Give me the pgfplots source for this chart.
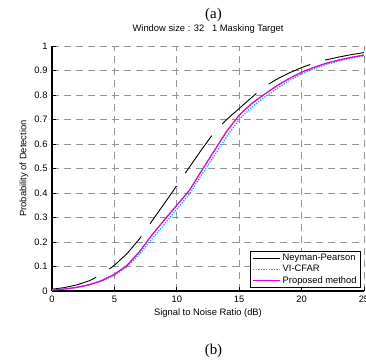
\documentclass[border=0pt]{standalone}
\usepackage{fontspec}
\setmainfont{Liberation Sans}
\newfontfamily\timesfont{Liberation Serif}
\usepackage{pgfplots}
\pgfplotsset{compat=1.18}
\definecolor{vicyan}{RGB}{0,180,230}
\definecolor{propmag}{RGB}{225,0,225}
\newcommand{\fs}{\fontsize{9.4}{11}\selectfont}
\begin{document}
\begin{tikzpicture}
\begin{axis}[
  name=ax, at={(0,0)}, anchor=south west,
  scale only axis, width=312bp, height=245bp,
  xmin=0, xmax=25, ymin=0, ymax=1,
  axis x line*=bottom, axis y line*=left,
  axis line style={line width=1.1bp, -, black},
  xtick={0,5,10,15,20,25},
  ytick={0,0.1,0.2,0.3,0.4,0.5,0.6,0.7,0.8,0.9,1},
  /pgf/number format/assume math mode=true,
  /pgf/number format/fixed,
  /pgf/number format/precision=1,
  tick label style={font=\fs, black},
  xticklabel style={anchor=center, yshift=-8bp},
  yticklabel style={anchor=east, xshift=-1bp},
  tick align=inside, major tick length=4bp,
  tick style={black, line width=0.8bp},
  grid=major,
  major grid style={line width=0.8bp, black!42, dash pattern=on 7bp off 5bp},
  title={Window size : 32~~~1 Masking Target},
  title style={font=\fs, at={(0.5,1)}, anchor=center, yshift=10.5bp},
  xlabel={Signal to Noise Ratio (dB)},
  xlabel style={font=\fs, at={(0.5,0)}, anchor=center, yshift=-22bp},
  ylabel={Probability of Detection},
  ylabel style={font=\fs, inner sep=2.5bp},
  legend style={at={(1,0)}, anchor=south east, xshift=-3bp, yshift=3bp,
    draw=black, line width=0.8bp, fill=white, font=\fs,
    inner xsep=2bp, inner ysep=1bp, row sep=-1bp},
  legend cell align=left,
  legend image code/.code={\draw[#1] (0bp,0bp) -- (27bp,0bp);},
]
\addplot[black, line width=0.9bp, dash pattern=on 46bp off 15.5bp] table {
x y
0 0.007
1 0.014
2 0.025
3 0.042
4 0.068
5 0.105
6 0.152
7 0.212
8 0.285
9 0.357
10 0.430
11 0.505
12 0.578
13 0.648
14 0.700
15 0.745
16 0.790
17 0.833
18 0.864
19 0.890
20 0.912
21 0.930
22 0.944
23 0.955
24 0.965
25 0.973
};
\addlegendentry{Neyman-Pearson}
\addplot[vicyan, line width=1.3bp, dash pattern=on 1.3bp off 1.3bp] table {
x y
0 0.004
1 0.007
2 0.014
3 0.025
4 0.041
5 0.064
6 0.098
7 0.150
8 0.212
9 0.272
10 0.333
11 0.395
12 0.475
13 0.552
14 0.630
15 0.700
16 0.750
17 0.790
18 0.826
19 0.858
20 0.886
21 0.907
22 0.925
23 0.939
24 0.950
25 0.960
};
\addlegendentry{VI-CFAR}
\addplot[propmag, line width=1.3bp] table {
x y
0 0.004
1 0.008
2 0.015
3 0.026
4 0.043
5 0.068
6 0.104
7 0.160
8 0.228
9 0.290
10 0.350
11 0.410
12 0.492
13 0.572
14 0.652
15 0.718
16 0.765
17 0.802
18 0.837
19 0.867
20 0.893
21 0.913
22 0.930
23 0.943
24 0.954
25 0.963
};
\addlegendentry{Proposed method}
\end{axis}
\node[font=\timesfont\fontsize{15}{17}\selectfont] at ([shift={(161.5bp,276.5bp)}]ax.south west) {(a)};
\node[font=\timesfont\fontsize{15}{17}\selectfont] at ([shift={(161.5bp,-59.5bp)}]ax.south west) {(b)};
\pgfresetboundingbox
\path ([shift={(-52bp,-72bp)}]ax.south west) rectangle ([shift={(2bp,46bp)}]ax.north east);
\end{tikzpicture}
\end{document}
